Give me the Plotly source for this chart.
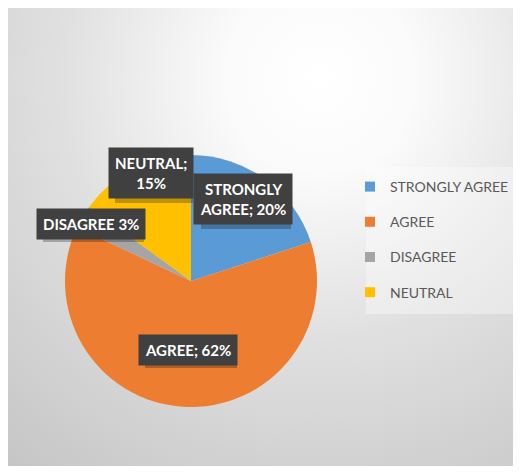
import base64
import plotly.graph_objects as go

# ---- data ----
categories = ["STRONGLY AGREE", "AGREE", "DISAGREE", "NEUTRAL"]
percentages = [20, 62, 3, 15]
slice_colors = ["#5B9BD5", "#ED7D31", "#A5A5A5", "#FFC000"]
label_texts = ["STRONGLY<br>AGREE; 20%", "AGREE; 62%", "DISAGREE 3%", "NEUTRAL;<br>15%"]

# figure size (page body has an 8px margin)
W, H = 513, 458

# ---- gradient background as an svg image ----
svg = f'''<svg xmlns="http://www.w3.org/2000/svg" width="{W}" height="{H}">
<defs><radialGradient id="g" gradientUnits="userSpaceOnUse" cx="312" cy="70" r="520">
<stop offset="0" stop-color="#ffffff"/>
<stop offset="0.18" stop-color="#fbfbfb"/>
<stop offset="0.5" stop-color="#e0e0e0"/>
<stop offset="1" stop-color="#c3c3c3"/>
</radialGradient></defs>
<rect x="0" y="0" width="{W}" height="{H}" fill="url(#g)"/>
</svg>'''
uri = "data:image/svg+xml;base64," + base64.b64encode(svg.encode()).decode()

fig = go.Figure()

# pie domain (circle centred at 183,273 in figure pixels)
cx, cy, d = 183, 273, 252
fig.add_trace(go.Pie(
    labels=categories, values=percentages, sort=False, direction="clockwise",
    rotation=0, marker=dict(colors=slice_colors, line=dict(width=0)),
    textinfo="none", showlegend=False, hoverinfo="label+percent",
    domain=dict(x=[(cx - d / 2) / W, (cx + d / 2) / W],
                y=[1 - (cy + d / 2) / H, 1 - (cy - d / 2) / H]),
))

# legend entries
for i, (c, col) in enumerate(zip(categories, slice_colors)):
    fig.add_trace(go.Scatter(
        x=[None], y=[None], mode="markers", name=c, legendgroup=f"g{i}",
        marker=dict(symbol="square", size=10, color=col), showlegend=True,
        hoverinfo="skip"))

# data labels (boxes) with drop shadows
label_pos = [(235, 191), (180, 342), (82.5, 216), (143, 165)]
box_size = [(90, 54), (92, 30), (101, 30), (78, 54)]
font_fam = "Lato, Roboto, Arial"
for txt, (px, py), (bw, bh) in zip(label_texts, label_pos, box_size):
    fig.add_shape(type="rect", xref="paper", yref="paper", layer="above",
                  x0=(px - bw / 2 + 3) / W, x1=(px + bw / 2 + 3) / W,
                  y0=1 - (py + bh / 2 + 3) / H, y1=1 - (py - bh / 2 + 3) / H,
                  fillcolor="rgba(0,0,0,0.25)", line=dict(width=0))
    fig.add_annotation(xref="paper", yref="paper", x=px / W, y=1 - py / H,
                       xanchor="center", yanchor="middle", text=f"<b>{txt}</b>",
                       showarrow=False, borderpad=6, align="center",
                       bgcolor="#404040",
                       font=dict(color="#ffffff", size=15, family=font_fam))

# legend background box
fig.add_shape(type="rect", xref="paper", yref="paper",
              x0=358 / W, x1=509 / W, y0=1 - 306 / H, y1=1 - 159 / H,
              fillcolor="rgba(255,255,255,0.35)", line=dict(width=0), layer="below")

fig.update_layout(
    width=W, height=H, margin=dict(l=0, r=0, t=0, b=0, autoexpand=False),
    paper_bgcolor="#ffffff", plot_bgcolor="rgba(0,0,0,0)",
    images=[dict(source=uri, xref="paper", yref="paper", x=0, y=1, sizex=1, sizey=1,
                 xanchor="left", yanchor="top", sizing="stretch", layer="below")],
    xaxis=dict(visible=False), yaxis=dict(visible=False),
    legend=dict(x=342 / W, y=1 - 163 / H, xanchor="left", yanchor="top",
                bgcolor="rgba(0,0,0,0)", traceorder="grouped", tracegroupgap=14,
                font=dict(size=14, color="#595959", family=font_fam)),
)

fig.write_html("out.html")
